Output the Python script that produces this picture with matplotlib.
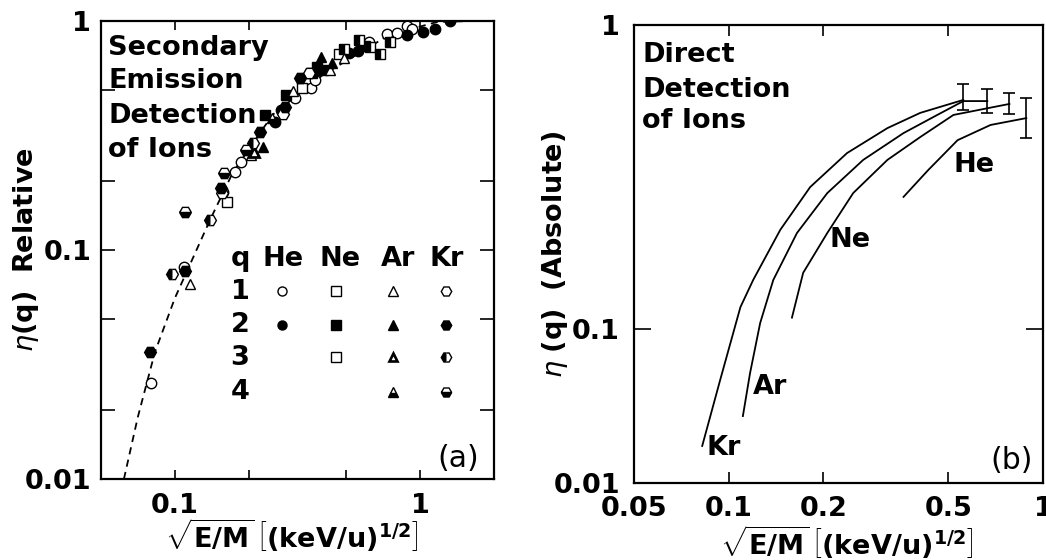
import numpy as np
import matplotlib
matplotlib.use('Agg')
import matplotlib.pyplot as plt
from matplotlib.ticker import FixedLocator, FixedFormatter, NullFormatter, NullLocator

plt.rcParams['font.family'] = ['DejaVu Sans']
plt.rcParams['font.weight'] = 'bold'
plt.rcParams['mathtext.fontset'] = 'custom'
plt.rcParams['mathtext.rm'] = 'DejaVu Sans:normal'
plt.rcParams['mathtext.it'] = 'DejaVu Sans:italic:normal'
plt.rcParams['mathtext.bf'] = 'DejaVu Sans:bold'
plt.rcParams['mathtext.sf'] = 'DejaVu Sans:normal'

FS = 19.5

# ---------------- Panel (a) data ----------------
fit_x = [0.062, 0.0707, 0.083, 0.1, 0.139, 0.172, 0.25, 0.40, 0.748, 1.17, 1.6]
fit_y = [0.01, 0.0187, 0.0359, 0.0616, 0.135, 0.217, 0.389, 0.58, 0.869, 0.99, 1.0]

he1_x = [0.0799, 0.1088, 0.157, 0.1754, 0.1854, 0.308, 0.360, 0.371, 0.621, 0.734, 0.806, 0.885, 0.928]
he1_y = [0.0262, 0.0843, 0.179, 0.219, 0.242, 0.461, 0.51, 0.552, 0.81, 0.877, 0.886, 0.951, 0.923]
he2_x = [0.255, 0.27, 0.514, 0.56, 0.885, 1.028, 1.15, 1.325]
he2_y = [0.362, 0.409, 0.725, 0.74, 0.869, 0.895, 0.923, 1.0]

ne1_x = [0.1626, 0.331, 0.465, 0.627]
ne1_y = [0.162, 0.51, 0.718, 0.77]
ne2_x = [0.234, 0.283, 0.364, 0.378, 0.403, 0.597]
ne2_y = [0.389, 0.475, 0.593, 0.63, 0.611, 0.778]
ne3_x = [0.491, 0.565, 0.687, 0.755]
ne3_y = [0.755, 0.826, 0.718, 0.81]

ar1_x = [0.115, 0.204, 0.302, 0.43, 0.491]
ar1_y = [0.071, 0.26, 0.495, 0.611, 0.689]
ar2_x = [0.228, 0.396, 0.439]
ar2_y = [0.282, 0.697, 0.656]
ar3_x = [0.211]
ar3_y = [0.268]
ar4_x = [0.25]
ar4_y = [0.377]

kr1_x = [0.351, 0.275, 0.155]
kr1_y = [0.593, 0.393, 0.177]
kr2_x = [0.0791, 0.11, 0.154, 0.2216, 0.28, 0.325]
kr2_y = [0.0359, 0.081, 0.187, 0.327, 0.421, 0.564]
kr3_x = [0.0972, 0.1387, 0.2075]
kr3_y = [0.0786, 0.135, 0.293]
kr4_x = [0.11, 0.158, 0.1945]
kr4_y = [0.1466, 0.217, 0.273]

elements = ['He', 'Ne', 'Ar', 'Kr']
charges = ['1', '2', '3', '4']

# ---------------- Panel (b) data ----------------
kr_x = [0.0824, 0.094, 0.109, 0.1197, 0.146, 0.1817, 0.238, 0.32, 0.407, 0.558]
kr_y = [0.0174, 0.0467, 0.118, 0.145, 0.212, 0.293, 0.379, 0.458, 0.514, 0.567]
ar_x = [0.111, 0.117, 0.126, 0.1387, 0.165, 0.206, 0.268, 0.36, 0.461, 0.558, 0.665]
ar_y = [0.0272, 0.0518, 0.1047, 0.145, 0.207, 0.28, 0.36, 0.441, 0.506, 0.562, 0.562]
ne_x = [0.159, 0.1726, 0.206, 0.249, 0.32, 0.407, 0.519, 0.782]
ne_y = [0.109, 0.153, 0.207, 0.28, 0.36, 0.428, 0.506, 0.55]
he_x = [0.36, 0.431, 0.535, 0.681, 0.885]
he_y = [0.272, 0.333, 0.418, 0.469, 0.494]

eb_x = [0.558, 0.665, 0.782, 0.885]
eb_y = [0.567, 0.562, 0.55, 0.494]
eb_lo = [0.525, 0.513, 0.51, 0.425]
eb_hi = [0.64, 0.616, 0.598, 0.575]

# ---------------- Figure ----------------
fig = plt.figure(figsize=(10.46, 5.6), dpi=100)
ax1 = fig.add_axes([101/1046, 1-479/560, 393/1046, 458/560])
ax2 = fig.add_axes([634/1046, 1-483/560, 409/1046, 458/560])

for ax in (ax1, ax2):
    for s in ax.spines.values():
        s.set_linewidth(1.6)

XLABEL = r'$\sqrt{\mathbf{E/M}}\,\left[\mathbf{(keV/u)}^{\mathbf{1/2}}\right]$'

# ---- panel (a)
ax1.set_xscale('log')
ax1.set_yscale('log')
ax1.set_xlim(0.05, 2.0)
ax1.set_ylim(0.01, 1.0)

ax1.plot(fit_x, fit_y, color='black', lw=1.3, ls=(0, (4, 3)), zorder=1)

ms = 7.5
mk = dict(ls='none', mec='black', mew=1.0, zorder=3)
ax1.plot(he1_x, he1_y, marker='o', ms=ms, mfc='white', **mk)
ax1.plot(he2_x, he2_y, marker='o', ms=ms, mfc='black', **mk)
ax1.plot(ne1_x, ne1_y, marker='s', ms=ms-1, mfc='white', **mk)
ax1.plot(ne2_x, ne2_y, marker='s', ms=ms-1, mfc='black', **mk)
ax1.plot(ne3_x, ne3_y, marker='s', ms=ms-1, mfc='black', fillstyle='left',
         markerfacecoloralt='white', **mk)
ax1.plot(ar1_x, ar1_y, marker='^', ms=ms, mfc='white', **mk)
ax1.plot(ar2_x, ar2_y, marker='^', ms=ms, mfc='black', **mk)
ax1.plot(ar3_x, ar3_y, marker='^', ms=ms-1, mfc='white', ls='none', mec='black', mew=2.0, zorder=3)
ax1.plot(ar4_x, ar4_y, marker='^', ms=ms, mfc='black', fillstyle='bottom',
         markerfacecoloralt='white', **mk)
ax1.plot(kr1_x, kr1_y, marker='H', ms=ms+1, mfc='white', **mk)
ax1.plot(kr2_x, kr2_y, marker='H', ms=ms+1, mfc='black', **mk)
ax1.plot(kr3_x, kr3_y, marker='H', ms=ms+1, mfc='black', fillstyle='left',
         markerfacecoloralt='white', **mk)
ax1.plot(kr4_x, kr4_y, marker='H', ms=ms+1, mfc='black', fillstyle='bottom',
         markerfacecoloralt='white', **mk)

ax1.xaxis.set_major_locator(FixedLocator([0.1, 1.0]))
ax1.xaxis.set_major_formatter(FixedFormatter(['0.1', '1']))
ax1.xaxis.set_minor_locator(FixedLocator([0.2, 0.5]))
ax1.xaxis.set_minor_formatter(NullFormatter())
ax1.yaxis.set_major_locator(FixedLocator([0.01, 0.1, 1.0]))
ax1.yaxis.set_major_formatter(FixedFormatter(['0.01', '0.1', '1']))
ax1.yaxis.set_minor_locator(FixedLocator([0.02, 0.05, 0.2, 0.5]))
ax1.yaxis.set_minor_formatter(NullFormatter())
ax1.tick_params(axis='both', which='both', direction='in', top=True, right=True,
                labelsize=FS, width=1.2)
ax1.tick_params(axis='y', which='both', length=10, pad=7)
ax1.tick_params(axis='x', which='both', length=6.5, pad=10)

ax1.set_xlabel(XLABEL, fontsize=FS, va='center')
ax1.xaxis.set_label_coords(0.486, -0.122)
ax1.set_ylabel(r'$\eta\mathbf{(q)\ \ Relative}$', fontsize=FS, fontweight='normal', va='center')
ax1.yaxis.set_label_coords(-0.19, 0.5)

for txt, yb in zip(['Secondary', 'Emission', 'Detection', 'of Ions'],
                   [0.926, 0.854, 0.777, 0.703]):
    ax1.text(0.018, yb, txt, transform=ax1.transAxes, fontsize=FS,
             fontweight='bold', va='baseline', ha='left')

ax1.text(0.908, 0.045, '(a)', transform=ax1.transAxes, fontsize=FS + 2,
         fontweight='normal', ha='center', va='center')

# legend table
col_text_x = [0.463, 0.608, 0.756, 0.880]
col_mark_x = [0.461, 0.598, 0.743, 0.878]
row_base_y = [0.393, 0.321, 0.249, 0.175]
row_mark_y = [0.410, 0.336, 0.266, 0.190]
ax1.text(0.354, 0.465, 'q', transform=ax1.transAxes, fontsize=FS, ha='center', va='baseline')
for el, cx in zip(elements, col_text_x):
    ax1.text(cx, 0.465, el, transform=ax1.transAxes, fontsize=FS, ha='center', va='baseline')
for q, yb in zip(charges, row_base_y):
    ax1.text(0.354, yb, q, transform=ax1.transAxes, fontsize=FS, ha='center', va='baseline')

lms = 6.5
legend_styles = {
    ('He', 0): dict(marker='o', mfc='white'),
    ('He', 1): dict(marker='o', mfc='black'),
    ('Ne', 0): dict(marker='s', mfc='white'),
    ('Ne', 1): dict(marker='s', mfc='black'),
    ('Ne', 2): dict(marker='s', mfc='white'),
    ('Ar', 0): dict(marker='^', mfc='white'),
    ('Ar', 1): dict(marker='^', mfc='black'),
    ('Ar', 2): dict(marker='^', mfc='white', mew=1.9, ms=lms - 1),
    ('Ar', 3): dict(marker='^', mfc='black', fillstyle='bottom', markerfacecoloralt='white'),
    ('Kr', 0): dict(marker='H', mfc='white'),
    ('Kr', 1): dict(marker='H', mfc='black'),
    ('Kr', 2): dict(marker='H', mfc='black', fillstyle='left', markerfacecoloralt='white'),
    ('Kr', 3): dict(marker='H', mfc='black', fillstyle='bottom', markerfacecoloralt='white'),
}
for (el, r), st in legend_styles.items():
    cx = col_mark_x[elements.index(el)]
    cy = row_mark_y[r]
    kw = dict(mec='black', mew=1.0, ms=lms + (1 if st['marker'] == 'H' else 0))
    kw.update(st)
    ax1.plot([cx], [cy], transform=ax1.transAxes, ls='none', clip_on=False, **kw)

# ---- panel (b)
RATIO = 154.0 / 304.0

def fwd(y):
    ly = np.log10(np.clip(np.asarray(y, dtype=float), 1e-300, None))
    return np.where(ly >= -1, ly, -1 + (ly + 1) * RATIO)

def inv(v):
    v = np.asarray(v, dtype=float)
    return np.where(v >= -1, 10 ** v, 10 ** (-1 + (v + 1) / RATIO))

ax2.set_xscale('log')
ax2.set_yscale('function', functions=(fwd, inv))
ax2.set_xlim(0.05, 1.0)
ax2.set_ylim(0.01, 1.0)

lw = 1.3
for cx_, cy_ in [(kr_x, kr_y), (ar_x, ar_y), (ne_x, ne_y), (he_x, he_y)]:
    ax2.plot(cx_, cy_, color='black', lw=lw, solid_joinstyle='round')
yerr = [np.array(eb_y) - np.array(eb_lo), np.array(eb_hi) - np.array(eb_y)]
ax2.errorbar(eb_x, eb_y, yerr=yerr, fmt='none', ecolor='black', elinewidth=1.2,
             capsize=4, capthick=1.2)

ax2.xaxis.set_major_locator(FixedLocator([0.05, 0.1, 0.2, 0.5, 1.0]))
ax2.xaxis.set_major_formatter(FixedFormatter(['0.05', '0.1', '0.2', '0.5', '1']))
ax2.xaxis.set_minor_locator(NullLocator())
ax2.yaxis.set_major_locator(FixedLocator([0.01, 0.1, 1.0]))
ax2.yaxis.set_major_formatter(FixedFormatter(['0.01', '0.1', '1']))
ax2.yaxis.set_minor_locator(NullLocator())
ax2.tick_params(axis='both', which='both', direction='in', top=True, right=True,
                labelsize=FS, width=1.2)
ax2.tick_params(axis='y', length=12, pad=10)
ax2.tick_params(axis='x', length=8, pad=9)

ax2.set_xlabel(XLABEL, fontsize=FS, va='center')
ax2.xaxis.set_label_coords(0.521, -0.129)
ax2.set_ylabel(r'$\eta\ \mathbf{(q)\ \ (Absolute)}$', fontsize=FS, fontweight='normal', va='center')
ax2.yaxis.set_label_coords(-0.193, 0.5)

for txt, yb in zip(['Direct', 'Detection', 'of Ions'], [0.919, 0.843, 0.775]):
    ax2.text(0.02, yb, txt, transform=ax2.transAxes, fontsize=FS,
             fontweight='bold', va='baseline', ha='left')

for name, px, py in [('He', 0.831, 0.694), ('Ne', 0.528, 0.531),
                     ('Ar', 0.333, 0.21), ('Kr', 0.22, 0.076)]:
    ax2.text(px, py, name, transform=ax2.transAxes, fontsize=FS,
             ha='center', va='center')

ax2.text(0.922, 0.05, '(b)', transform=ax2.transAxes, fontsize=FS + 2,
         fontweight='normal', ha='center', va='center')

fig.savefig('out.png', dpi=100, facecolor='white')
